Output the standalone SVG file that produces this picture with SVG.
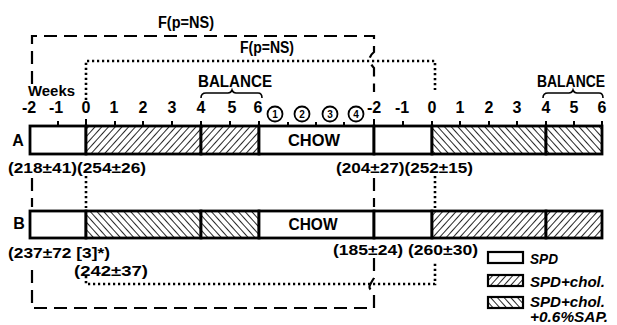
<svg xmlns="http://www.w3.org/2000/svg" width="617" height="325" viewBox="0 0 617 325">
<style>
text{font-family:"Liberation Sans",Arial,sans-serif;font-weight:bold;fill:#000}
.wk{font-size:16px;text-anchor:middle}
.val{font-size:15px}
.lbl{font-size:16px;text-anchor:middle}
.leg{font-size:14px;font-style:italic}
.bar{stroke:#000;stroke-width:2.8}
.dash{fill:none;stroke:#000;stroke-width:2.2;stroke-dasharray:13 7}
.dot{fill:none;stroke:#000;stroke-width:2.6;stroke-dasharray:2.2 2.8}
.tick{stroke:#000;stroke-width:2}
.circ{fill:#fff;stroke:#000;stroke-width:1.8}
.cn{font-size:10px;text-anchor:middle}
</style>
<defs>
<pattern id="hf" patternUnits="userSpaceOnUse" width="5" height="5" patternTransform="rotate(42)">
<rect width="5" height="5" fill="#fff"/><line x1="0" y1="0" x2="0" y2="5" stroke="#000" stroke-width="1.7"/>
</pattern>
<pattern id="hb" patternUnits="userSpaceOnUse" width="5" height="5" patternTransform="rotate(-42)">
<rect width="5" height="5" fill="#fff"/><line x1="0" y1="0" x2="0" y2="5" stroke="#000" stroke-width="1.7"/>
</pattern>
</defs>

<g id="connectors">
<path class="dash" d="M32,84 V36 H374 V52 Q368,57 370,62 Q372,66 374,68 V92"/>
<path class="dash" d="M32,178 V207 M374,178 V207"/>
<path class="dash" d="M32,270 V308 H374 V292 Q368,289 370,285 Q372,281 374,278 V258"/>
<path class="dot" d="M86,100 V61 H435 V90"/>
<path class="dot" d="M86,176 V208 M435,176 V208"/>
<path class="dot" d="M86,276 V284 H435 V263"/>
</g>

<g id="titles">
<text x="186" y="28" class="lbl" font-size="17" textLength="56" lengthAdjust="spacingAndGlyphs">F(p=NS)</text>
<text x="267" y="53" class="lbl" font-size="17" textLength="54" lengthAdjust="spacingAndGlyphs">F(p=NS)</text>
<text x="28" y="96" font-size="15" textLength="47" lengthAdjust="spacingAndGlyphs">Weeks</text>
</g>

<g id="balance-left">
<text x="235" y="87" class="lbl" font-size="17" textLength="74" lengthAdjust="spacingAndGlyphs">BALANCE</text>
<path d="M201,98 Q201,93 206,93 H228 Q231,93 232,90 Q233,93 236,93 H258 Q262,93 262,98" fill="none" stroke="#000" stroke-width="1.6"/>
</g>
<g id="balance-right">
<text x="571" y="87" class="lbl" font-size="17" textLength="68" lengthAdjust="spacingAndGlyphs">BALANCE</text>
<path d="M543,98 Q543,93 548,93 H569 Q572,93 573,90 Q574,93 577,93 H599 Q603,93 603,98" fill="none" stroke="#000" stroke-width="1.6"/>
</g>

<g id="week-axis">
<text x="29" y="113" class="wk">-2</text>
<text x="56" y="113" class="wk">-1</text>
<text x="86" y="113" class="wk">0</text>
<text x="114" y="113" class="wk">1</text>
<text x="143" y="113" class="wk">2</text>
<text x="172" y="113" class="wk">3</text>
<text x="201" y="113" class="wk">4</text>
<text x="232" y="113" class="wk">5</text>
<text x="258" y="113" class="wk">6</text>
<text x="374" y="113" class="wk">-2</text>
<text x="402" y="113" class="wk">-1</text>
<text x="432" y="113" class="wk">0</text>
<text x="460" y="113" class="wk">1</text>
<text x="489" y="113" class="wk">2</text>
<text x="517" y="113" class="wk">3</text>
<text x="546" y="113" class="wk">4</text>
<text x="574" y="113" class="wk">5</text>
<text x="602" y="113" class="wk">6</text>
<path class="tick" d="M58,121V126 M86,119V126 M115,121V126 M143,121V126 M172,121V126 M201,121V126 M230,121V126 M259,121V126 M288,122V126 M316,122V126 M344,122V126 M374,119V126 M403,121V126 M432,121V126 M460,121V126 M489,121V126 M517,121V126 M546,121V126 M574,121V126 M602,121V126"/>
</g>

<g id="chow-weeks">
<circle class="circ" cx="275" cy="114" r="7.5"/><text x="275" y="117.5" class="cn">1</text>
<circle class="circ" cx="302" cy="114" r="7.5"/><text x="302" y="117.5" class="cn">2</text>
<circle class="circ" cx="330" cy="114" r="7.5"/><text x="330" y="117.5" class="cn">3</text>
<circle class="circ" cx="356" cy="114" r="7.5"/><text x="356" y="117.5" class="cn">4</text>
</g>

<g id="bar-A">
<text x="18" y="146" class="lbl" font-size="17">A</text>
<rect class="bar" x="30" y="126" width="56" height="28" fill="#fff"/>
<rect class="bar" x="86" y="126" width="115" height="28" fill="url(#hf)"/>
<rect class="bar" x="201" y="126" width="58" height="28" fill="url(#hf)"/>
<rect class="bar" x="259" y="126" width="115" height="28" fill="#fff"/>
<rect class="bar" x="374" y="126" width="58" height="28" fill="#fff"/>
<rect class="bar" x="432" y="126" width="114" height="28" fill="url(#hb)"/>
<rect class="bar" x="546" y="126" width="56" height="28" fill="url(#hb)"/>
<text x="314" y="146" class="lbl" font-size="17" textLength="52" lengthAdjust="spacingAndGlyphs">CHOW</text>
<text x="8" y="173" class="val" textLength="138" lengthAdjust="spacingAndGlyphs">(218±41)(254±26)</text>
<text x="336" y="173" class="val" textLength="137" lengthAdjust="spacingAndGlyphs">(204±27)(252±15)</text>
</g>

<g id="bar-B">
<text x="19" y="229" class="lbl" font-size="17">B</text>
<rect class="bar" x="30" y="211" width="56" height="27" fill="#fff"/>
<rect class="bar" x="86" y="211" width="115" height="27" fill="url(#hb)"/>
<rect class="bar" x="201" y="211" width="58" height="27" fill="url(#hb)"/>
<rect class="bar" x="259" y="211" width="115" height="27" fill="#fff"/>
<rect class="bar" x="374" y="211" width="58" height="27" fill="#fff"/>
<rect class="bar" x="432" y="211" width="114" height="27" fill="url(#hf)"/>
<rect class="bar" x="546" y="211" width="56" height="27" fill="url(#hf)"/>
<text x="313" y="230" class="lbl" font-size="15.5" textLength="49" lengthAdjust="spacingAndGlyphs">CHOW</text>
<text x="8" y="258" class="val" textLength="102" lengthAdjust="spacingAndGlyphs">(237±72 [3]*)</text>
<text x="74" y="276" class="val" textLength="74" lengthAdjust="spacingAndGlyphs">(242±37)</text>
<text x="333" y="255" class="val" textLength="145" lengthAdjust="spacingAndGlyphs">(185±24) (260±30)</text>
</g>

<g id="legend">
<rect x="488" y="252" width="35" height="11" fill="#fff" stroke="#000" stroke-width="2.2"/>
<text x="530" y="264" class="leg" textLength="28" lengthAdjust="spacingAndGlyphs">SPD</text>
<rect x="488" y="275" width="35" height="11" fill="url(#hf)" stroke="#000" stroke-width="2.2"/>
<text x="530" y="287" class="leg" textLength="75" lengthAdjust="spacingAndGlyphs">SPD+chol.</text>
<rect x="488" y="297" width="35" height="11" fill="url(#hb)" stroke="#000" stroke-width="2.2"/>
<text x="530" y="307" class="leg" font-size="13" textLength="75" lengthAdjust="spacingAndGlyphs">SPD+chol.</text>
<text x="530" y="322" class="leg" font-size="13" textLength="78" lengthAdjust="spacingAndGlyphs">+0.6%SAP.</text>
</g>
</svg>
